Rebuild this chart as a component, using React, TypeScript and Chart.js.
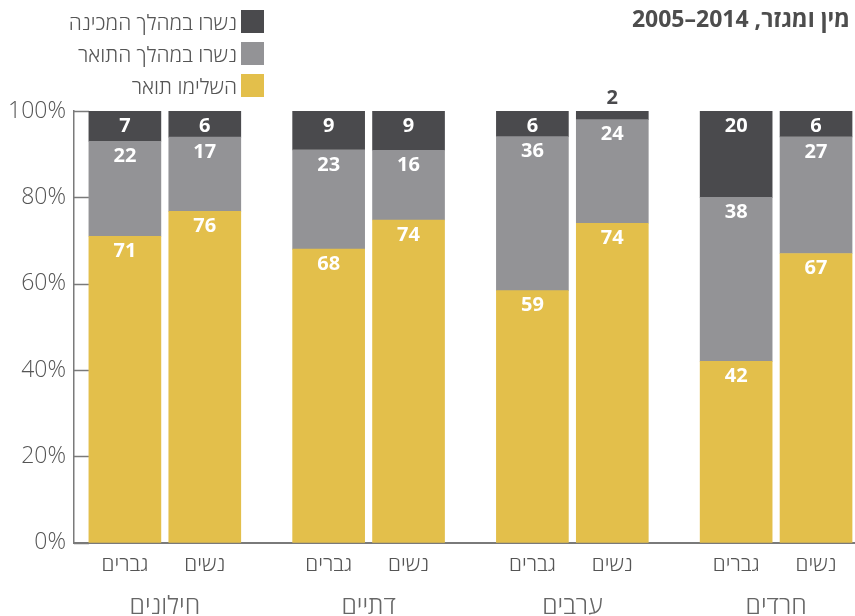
import React, { useEffect, useRef } from "react";
import { Chart, registerables } from "chart.js";

Chart.register(...registerables);

const TITLE_TEXT = "מין ומגזר, ";
const TITLE_YEARS = "2005–2014";
const GROUPS = ["חילונים", "דתיים", "ערבים", "חרדים"];
const GENDERS = ["גברים", "נשים"];
const SERIES_NAMES = ["השלימו תואר", "נשרו במהלך התואר", "נשרו במהלך המכינה"];
const COMPLETED = [71, 76, 68, 74, 59, 74, 42, 67];
const DROPPED_DEGREE = [22, 17, 23, 16, 36, 24, 38, 27];
const DROPPED_PREP = [7, 6, 9, 9, 6, 2, 20, 6];
const Y_TICKS = [0, 20, 40, 60, 80, 100];

const COLORS = ["#E3BF4B", "#939396", "#4A4A4D"];
const GROUP_STEP = 2.55;

const SERIES = [COMPLETED, DROPPED_DEGREE, DROPPED_PREP];
const TOTALS = COMPLETED.map((_, i) => SERIES.reduce((s, arr) => s + arr[i], 0));
const POSITIONS = COMPLETED.map((_, i) => Math.floor(i / 2) * GROUP_STEP + (i % 2));
const GROUP_CENTERS = GROUPS.map((_, g) => g * GROUP_STEP + 0.5);

const FONT = "'Open Sans', 'DejaVu Sans', sans-serif";

const labelPlugin = {
  id: "segLabels",
  afterDatasetsDraw(chart: any) {
    const ctx = chart.ctx;
    const area = chart.chartArea;
    ctx.save();
    ctx.font = `bold 20px ${FONT}`;
    ctx.textAlign = "center";
    ctx.textBaseline = "middle";
    chart.data.datasets.forEach((ds: any, di: number) => {
      const meta = chart.getDatasetMeta(di);
      meta.data.forEach((bar: any, i: number) => {
        const val = SERIES[di][i];
        const top = Math.max(bar.y, area.top);
        const h = bar.base - top;
        if (h < 18) {
          ctx.fillStyle = "#4A4A4D";
          ctx.fillText(String(val), bar.x, top - 13);
        } else {
          ctx.fillStyle = "#ffffff";
          ctx.fillText(String(val), bar.x, top + 15);
        }
      });
    });
    ctx.restore();
  },
};

const tickMarkPlugin = {
  id: "innerTicks",
  beforeDatasetsDraw(chart: any) {
    const ctx = chart.ctx;
    const area = chart.chartArea;
    const y = chart.scales.y;
    ctx.save();
    ctx.strokeStyle = "#7a7a7a";
    ctx.lineWidth = 1.5;
    Y_TICKS.forEach((t) => {
      const py = Math.round(y.getPixelForValue(t)) + 0.5;
      ctx.beginPath();
      ctx.moveTo(area.left, py);
      ctx.lineTo(area.left + 15, py);
      ctx.stroke();
    });
    ctx.restore();
  },
};

export default function App() {
  const ref = useRef<HTMLCanvasElement | null>(null);

  useEffect(() => {
    document.body.style.margin = "0";
    const canvas = ref.current;
    if (!canvas) return;
    const datasets = SERIES.map((arr, si) => ({
      label: SERIES_NAMES[si],
      data: arr.map((v, i) => ({ x: POSITIONS[i], y: (v / TOTALS[i]) * 100 })),
      backgroundColor: COLORS[si],
      borderWidth: 0,
      barThickness: 72,
    }));
    const chart = new Chart(canvas, {
      type: "bar",
      data: { datasets },
      options: {
        responsive: false,
        animation: false,
        layout: { padding: { top: 111, left: 0, right: 0, bottom: -10 } },
        plugins: {
          legend: { display: false },
          title: { display: false },
          tooltip: { enabled: false },
        },
        scales: {
          x: {
            type: "linear",
            stacked: true,
            offset: false,
            min: -0.6375,
            max: 9.1375,
            grid: { display: false, drawTicks: false },
            border: { display: true, color: "#7a7a7a", width: 2 },
            afterBuildTicks: (axis: any) => {
              axis.ticks = POSITIONS.map((v) => ({ value: v }));
            },
            ticks: {
              autoSkip: false,
              maxRotation: 0,
              padding: 10,
              color: "#555555",
              font: { family: FONT, size: 21, weight: "300" },
              callback: (_v: any, idx: number) => GENDERS[idx % 2],
            },
          },
          x2: {
            type: "linear",
            position: "bottom",
            axis: "x",
            offset: false,
            min: -0.6375,
            max: 9.1375,
            grid: { display: false, drawTicks: false },
            border: { display: false },
            afterBuildTicks: (axis: any) => {
              axis.ticks = GROUP_CENTERS.map((v) => ({ value: v }));
            },
            ticks: {
              autoSkip: false,
              maxRotation: 0,
              padding: 4,
              color: "#666666",
              font: { family: FONT, size: 25, weight: "300" },
              callback: (_v: any, idx: number) => GROUPS[idx],
            },
          },
          y: {
            stacked: true,
            min: 0,
            max: 100,
            grid: { display: false, drawTicks: false },
            border: { display: true, color: "#7a7a7a", width: 1.5 },
            afterBuildTicks: (axis: any) => {
              axis.ticks = Y_TICKS.map((v) => ({ value: v }));
            },
            ticks: {
              padding: 8,
              color: "#555555",
              font: { family: FONT, size: 23, weight: "300" },
              callback: (v: any) => `${v}%`,
            },
          },
        },
      },
      plugins: [tickMarkPlugin, labelPlugin],
    } as any);
    return () => chart.destroy();
  }, []);

  const legendOrder = [2, 1, 0];

  return (
    <div style={{ position: "relative", width: 855, height: 616, fontFamily: FONT }}>
      <canvas ref={ref} width={855} height={616} style={{ display: "block" }} />
      <div
        style={{
          position: "absolute",
          right: 5,
          top: 2,
          direction: "rtl",
          fontWeight: 700,
          fontSize: 23,
          color: "#4d4d4d",
          lineHeight: "32px",
          whiteSpace: "nowrap",
        }}
      >
        {TITLE_TEXT}
        <span dir="ltr" style={{ unicodeBidi: "isolate" }}>
          {TITLE_YEARS}
        </span>
      </div>
      {legendOrder.map((si, row) => (
        <div
          key={si}
          style={{
            position: "absolute",
            right: 855 - 264,
            top: 10 + row * 32,
            height: 23,
            display: "flex",
            alignItems: "center",
            gap: 4,
          }}
        >
          <span
            style={{
              direction: "rtl",
              fontSize: 21,
              fontWeight: 300,
              color: "#555555",
              whiteSpace: "nowrap",
            }}
          >
            {SERIES_NAMES[si]}
          </span>
          <span style={{ width: 23, height: 23, background: COLORS[si], display: "inline-block" }} />
        </div>
      ))}
    </div>
  );
}
